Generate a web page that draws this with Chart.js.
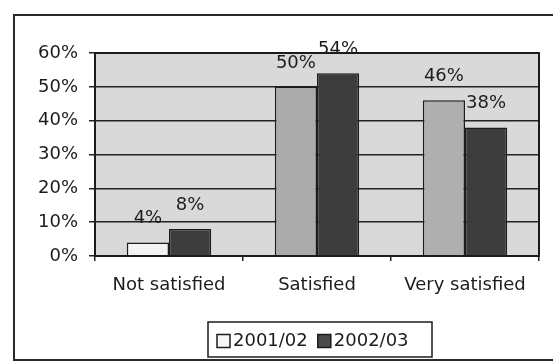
<!DOCTYPE html>
<html>
<head>
<meta charset="utf-8">
<script src="https://cdn.jsdelivr.net/npm/chart.js@4.4.0/dist/chart.umd.min.js"></script>
<style>
  html, body { margin: 0; padding: 0; background: #fff; }
  #wrap { position: relative; width: 553px; height: 363px; }
</style>
</head>
<body>
<div id="wrap"><canvas id="satChart" width="553" height="363"></canvas></div>
<script>
const categories = ['Not satisfied', 'Satisfied', 'Very satisfied'];
const seriesNames = ['2001/02', '2002/03'];
const values0102 = [4, 50, 46];
const values0203 = [8, 54, 38];
const yTicks = [0, 10, 20, 30, 40, 50, 60];

const FONT = '"DejaVu Sans", "Liberation Sans", Arial, sans-serif';
const INK = '#1c1c1c';

// frame, plot background, data labels and the boxed legend
const decor = {
    id: 'decor',
    beforeDraw(chart) {
        const { ctx, chartArea: a } = chart;
        ctx.save();
        ctx.fillStyle = '#fff';
        ctx.fillRect(0, 0, chart.width, chart.height);
        ctx.fillStyle = '#d9d9d9';
        ctx.fillRect(a.left, a.top, a.right - a.left, a.bottom - a.top);
        ctx.strokeStyle = '#2a2a2a';
        ctx.lineWidth = 2;
        ctx.beginPath();
        ctx.moveTo(chart.width, 15);
        ctx.lineTo(14, 15);
        ctx.lineTo(14, 360);
        ctx.lineTo(chart.width, 360);
        ctx.stroke();
        ctx.restore();
    },
    afterDatasetsDraw(chart) {
        const { ctx, chartArea: a } = chart;
        ctx.save();
        ctx.strokeStyle = INK;
        ctx.lineWidth = 2;
        ctx.strokeRect(a.left, a.top, a.right - a.left, a.bottom - a.top);

        ctx.font = '18px ' + FONT;
        ctx.fillStyle = INK;
        ctx.textAlign = 'center';
        ctx.textBaseline = 'middle';
        chart.data.datasets.forEach((ds, di) => {
            chart.getDatasetMeta(di).data.forEach((bar, i) => {
                ctx.fillText(ds.data[i] + '%', bar.x, bar.y - 24);
            });
        });

        // legend
        const lx = 208, ly = 322, lw = 224, lh = 35;
        ctx.lineWidth = 1.5;
        ctx.strokeRect(lx, ly, lw, lh);
        ctx.textAlign = 'left';
        let x = lx + 9;
        const cy = ly + lh / 2 + 2;
        chart.data.datasets.forEach(ds => {
            ctx.fillStyle = ds.legendColor;
            ctx.fillRect(x, cy - 7, 13, 13);
            ctx.strokeStyle = INK;
            ctx.lineWidth = 1.5;
            ctx.strokeRect(x, cy - 7, 13, 13);
            ctx.fillStyle = INK;
            ctx.fillText(ds.label, x + 16, cy);
            x += 16 + ctx.measureText(ds.label).width + 10;
        });
        ctx.restore();
    }
};

const ctx = document.getElementById('satChart').getContext('2d');
const satChart = new Chart(ctx, {
    type: 'bar',
    data: {
        labels: categories,
        datasets: [{
                label: seriesNames[0],
                data: values0102,
                backgroundColor: ['#f3f3f3', '#ababab', '#afafaf'],
                legendColor: '#f6f6f6',
                borderColor: INK,
                borderWidth: 1.5,
                categoryPercentage: 0.57,
                barPercentage: 1.0
            },
            {
                label: seriesNames[1],
                data: values0203,
                backgroundColor: '#3c3c3c',
                legendColor: '#4a4a4a',
                borderColor: INK,
                borderWidth: 1.5,
                categoryPercentage: 0.57,
                barPercentage: 1.0
            }
        ]
    },
    plugins: [decor],
    options: {
        responsive: false,
        animation: false,
        layout: {
            padding: { left: 0, right: 14, top: 53, bottom: 57 }
        },
        plugins: {
            legend: { display: false },
            tooltip: { enabled: false }
        },
        scales: {
            y: {
                min: 0,
                max: 60,
                afterFit(scale) { scale.width = 95; },
                afterBuildTicks(scale) { scale.ticks = yTicks.map(v => ({ value: v })); },
                ticks: {
                    padding: 11,
                    color: INK,
                    font: { family: FONT, size: 18 },
                    callback: v => v + '%'
                },
                grid: { color: '#222', lineWidth: 1.5, tickLength: 6 },
                border: { display: true, color: INK, width: 2 }
            },
            x: {
                afterFit(scale) { scale.height = 50; },
                ticks: {
                    padding: 14,
                    color: INK,
                    font: { family: FONT, size: 18 },
                    maxRotation: 0,
                    minRotation: 0
                },
                grid: { drawOnChartArea: false, color: '#222', lineWidth: 1.5, tickLength: 5 },
                border: { display: true, color: INK, width: 2 }
            }
        }
    }
});
</script>
</body>
</html>
